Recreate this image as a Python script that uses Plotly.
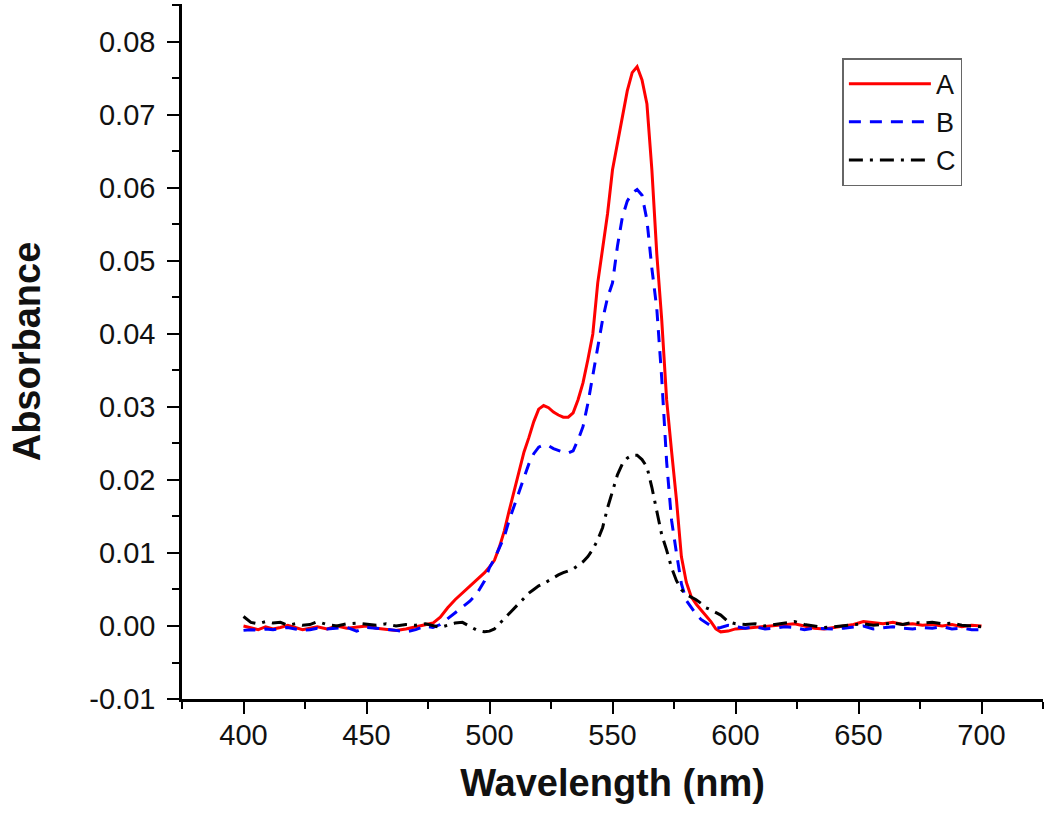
import plotly.graph_objects as go

wavelength = [400,403,406,409,412,415,418,421,424,427,430,434,438,442,446,450,454,458,462,466,470,474,477,480,483,486,489,492,495,498,
              500,502,504,506,508,510,512,514,516,518,520,522,524,526,528,530,532,534,536,538,540,542,544,546,548,550,552,554,556,558,
              560,562,564,566,568,570,572,574,576,578,580,582,584,586,588,590,592,594,597,600,604,608,612,616,620,624,628,632,636,640,
              644,648,652,656,660,664,668,672,676,680,684,688,692,696,700]

abs_A = [0.0000,-0.0003,-0.0005,-0.0001,-0.0004,-0.0002,0.0001,-0.0002,-0.0005,-0.0003,-0.0001,-0.0004,0.0000,-0.0003,-0.0002,0.0000,-0.0003,-0.0005,-0.0006,-0.0004,-0.0001,0.0001,0.0004,0.0012,0.0025,0.0036,0.0045,0.0055,0.0064,0.0073,
         0.0081,0.0090,0.0108,0.0130,0.0158,0.0185,0.0212,0.0238,0.0258,0.0280,0.0297,0.0302,0.0299,0.0293,0.0289,0.0286,0.0286,0.0292,0.0310,0.0333,0.0365,0.0400,0.0470,0.0520,0.0565,0.0625,0.0660,0.0700,0.0733,0.0758,
         0.0766,0.0748,0.0715,0.0625,0.0510,0.0420,0.0310,0.0240,0.0173,0.0095,0.0060,0.0040,0.0030,0.0022,0.0014,0.0006,-0.0004,-0.0008,-0.0007,-0.0004,-0.0003,-0.0002,-0.0001,0.0000,0.0001,0.0003,0.0000,-0.0003,-0.0004,-0.0002,
         -0.0001,0.0002,0.0006,0.0005,0.0003,0.0005,0.0002,0.0003,0.0001,0.0002,0.0000,0.0002,-0.0001,0.0001,0.0000]

abs_B = [-0.0006,-0.0005,-0.0006,-0.0004,-0.0005,-0.0003,-0.0002,-0.0004,-0.0006,-0.0005,-0.0003,-0.0004,-0.0003,-0.0002,-0.0007,-0.0002,-0.0003,-0.0004,-0.0006,-0.0008,-0.0005,0.0000,-0.0002,0.0002,0.0010,0.0018,0.0026,0.0034,0.0045,0.0062,
         0.0080,0.0092,0.0107,0.0122,0.0145,0.0165,0.0182,0.0205,0.0222,0.0236,0.0245,0.0248,0.0247,0.0243,0.0240,0.0238,0.0237,0.0240,0.0255,0.0273,0.0305,0.0345,0.0385,0.0420,0.0450,0.0470,0.0520,0.0560,0.0582,0.0593,
         0.0598,0.0590,0.0556,0.0490,0.0435,0.0340,0.0225,0.0145,0.0100,0.0058,0.0035,0.0025,0.0016,0.0009,0.0004,0.0000,-0.0003,-0.0002,0.0001,-0.0001,-0.0003,-0.0001,-0.0004,-0.0003,-0.0001,-0.0002,-0.0005,-0.0003,-0.0004,-0.0004,
         -0.0003,-0.0001,0.0000,-0.0004,-0.0003,-0.0001,-0.0003,-0.0004,-0.0002,-0.0003,-0.0001,-0.0004,-0.0003,-0.0005,-0.0005]

abs_C = [0.0013,0.0005,0.0003,0.0006,0.0004,0.0005,0.0001,0.0003,0.0001,0.0002,0.0006,0.0002,0.0000,0.0003,0.0004,0.0002,0.0001,0.0003,0.0000,0.0002,0.0001,0.0003,0.0000,-0.0002,0.0001,0.0004,0.0005,0.0000,-0.0006,-0.0008,
         -0.0007,-0.0004,0.0003,0.0010,0.0017,0.0024,0.0032,0.0039,0.0045,0.0050,0.0055,0.0058,0.0062,0.0067,0.0070,0.0073,0.0075,0.0078,0.0083,0.0088,0.0095,0.0105,0.0118,0.0135,0.0162,0.0185,0.0207,0.0222,0.0230,0.0234,
         0.0234,0.0228,0.0218,0.0190,0.0155,0.0125,0.0104,0.0080,0.0062,0.0050,0.0043,0.0040,0.0036,0.0031,0.0025,0.0022,0.0019,0.0015,0.0006,0.0003,0.0002,0.0003,0.0000,0.0002,0.0004,0.0006,0.0002,0.0000,-0.0002,-0.0001,
         0.0000,0.0002,0.0003,0.0001,0.0003,0.0004,0.0002,0.0005,0.0004,0.0005,0.0003,0.0004,0.0001,0.0000,-0.0001]

series_names = ["A", "B", "C"]
y_tickvals = [-0.01, 0.00, 0.01, 0.02, 0.03, 0.04, 0.05, 0.06, 0.07, 0.08]
y_ticktext = ["-0.01", "0.00", "0.01", "0.02", "0.03", "0.04", "0.05", "0.06", "0.07", "0.08"]
x_tickvals = [400, 450, 500, 550, 600, 650, 700]

styles = [
    dict(color="#ff0000", width=3, dash="solid"),
    dict(color="#0000ff", width=3, dash="12px,9px"),
    dict(color="#000000", width=3, dash="14px,7px,3px,7px"),
]

FONT = "Liberation Sans, Arial"

fig = go.Figure()
for name, ys, st in zip(series_names, [abs_A, abs_B, abs_C], styles):
    fig.add_trace(go.Scatter(x=wavelength, y=ys, mode="lines", name=name,
                             line=st, legendgroup=name))

axis_common = dict(
    showline=True, linecolor="black", linewidth=2.5, mirror=False,
    ticks="outside", ticklen=12, tickwidth=2, tickcolor="black",
    showgrid=False, zeroline=False, automargin=False,
    tickfont=dict(family=FONT, size=29, color="#111111"),
)

fig.update_layout(
    width=1050, height=823,
    paper_bgcolor="white", plot_bgcolor="white",
    margin=dict(l=182, r=7, t=4, b=124),
    xaxis=dict(axis_common, range=[375, 725], tickvals=x_tickvals,
               ticklabelstandoff=-4,
               minor=dict(ticks="outside", dtick=25, tick0=375, ticklen=7, tickwidth=2, tickcolor="black"),
               title=dict(text="<b>Wavelength (nm)</b>", standoff=20,
                          font=dict(family=FONT, size=38, color="#111111"))),
    yaxis=dict(axis_common, range=[-0.01, 0.0852], tickvals=y_tickvals, ticktext=y_ticktext,
               ticklabelstandoff=6,
               minor=dict(ticks="outside", dtick=0.005, tick0=-0.01, ticklen=7, tickwidth=2, tickcolor="black"),
               title=dict(text="<b>Absorbance</b>", standoff=38,
                          font=dict(family=FONT, size=38, color="#111111"))),
    legend=dict(x=0.767, y=0.922, xanchor="left", yanchor="top",
                bgcolor="white", bordercolor="#666666", borderwidth=1.5,
                font=dict(family=FONT, size=27, color="#111111"),
                itemwidth=82, tracegroupgap=0),
    showlegend=True,
)

fig.write_html("out.html", config={"displayModeBar": False},
               post_script="document.body.style.margin='0px';")
